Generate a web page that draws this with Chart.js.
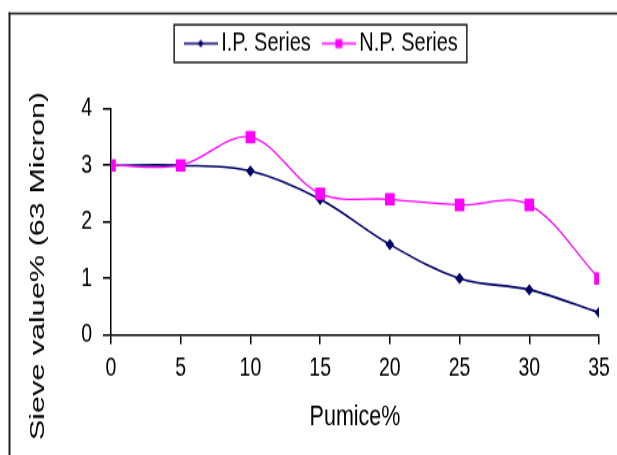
<!DOCTYPE html>
<html>
<head>
<meta charset="utf-8">
<script src="https://cdn.jsdelivr.net/npm/chart.js@4.4.0/dist/chart.umd.min.js"></script>
<style>
  html, body { margin: 0; padding: 0; background: #fff; }
  #wrap { width: 617px; height: 455px; overflow: hidden; }
  /* the chart is drawn short and stretched tall, giving the narrow lettering */
  #sieveChart { display: block; transform: scaleY(1.3); transform-origin: 0 0; }
</style>
</head>
<body>
<div id="wrap"><canvas id="sieveChart" width="617" height="350"></canvas></div>
<script>
const pumice = [0, 5, 10, 15, 20, 25, 30, 35];
const ipSeries = [3.0, 3.0, 2.9, 2.4, 1.6, 1.0, 0.8, 0.4];
const npSeries = [3.0, 3.0, 3.5, 2.5, 2.4, 2.3, 2.3, 1.0];
const xTicks = [0, 5, 10, 15, 20, 25, 30, 35];
const yTicks = [0, 1, 2, 3, 4];

const FONT = "'Liberation Sans', Arial, sans-serif";
const NAVY = "#000066";
const MAGENTA = "#ff00ff";

// small line + marker glyph used as the legend symbol
function legendSymbol(color, shape) {
  const c = document.createElement("canvas");
  c.width = 34;
  c.height = 12;
  const g = c.getContext("2d");
  g.strokeStyle = color;
  g.fillStyle = color;
  g.lineWidth = 1.4;
  g.beginPath();
  g.moveTo(0, 6);
  g.lineTo(34, 6);
  g.stroke();
  g.beginPath();
  if (shape === "diamond") {
    g.moveTo(17, 3);
    g.lineTo(20, 6);
    g.lineTo(17, 9);
    g.lineTo(14, 6);
  } else {
    g.rect(13.5, 2.5, 7, 7);
  }
  g.fill();
  return c;
}
const symbols = [legendSymbol(NAVY, "diamond"), legendSymbol(MAGENTA, "square")];

// extra room under the legend before the plot starts
const legendSpacer = {
  id: "legendSpacer",
  beforeLayout(chart) {
    const lg = chart.legend;
    if (!lg || lg._spaced) return;
    const fit = lg.fit;
    lg.fit = function () {
      fit.call(this);
      this.height += 30.2;
    };
    lg._spaced = true;
  },
};

const frame = {
  id: "frame",
  beforeDraw(chart) {
    const ctx = chart.ctx;
    ctx.save();
    ctx.fillStyle = "#fff";
    ctx.fillRect(0, 0, chart.width, chart.height);
    ctx.fillStyle = "#222";
    ctx.fillRect(8.5, 9.6, chart.width, 1.6);
    ctx.fillRect(8.5, 9.6, 2, chart.height);
    ctx.restore();
  },
  afterDraw(chart) {
    const ctx = chart.ctx;
    const boxes = chart.legend.legendHitBoxes;
    if (boxes && boxes.length) {
      const left = Math.min(...boxes.map((b) => b.left)) - 16;
      const right = Math.max(...boxes.map((b) => b.left + b.width)) + 9;
      const top = Math.min(...boxes.map((b) => b.top)) - 4.5;
      const bottom = Math.max(...boxes.map((b) => b.top + b.height)) + 4.5;
      ctx.save();
      ctx.strokeStyle = "#111";
      ctx.lineWidth = 1.4;
      ctx.strokeRect(left, top, right - left, bottom - top);
      ctx.restore();
    }
    // y axis title, widened along its length
    ctx.save();
    ctx.translate(38, 204.6);
    ctx.rotate(-Math.PI / 2);
    ctx.scale(1.12, 1);
    ctx.font = "21px " + FONT;
    ctx.textAlign = "center";
    ctx.textBaseline = "middle";
    ctx.fillStyle = "#000";
    ctx.fillText("Sieve value% (63 Micron)", 0, 0);
    ctx.restore();
  },
};

new Chart(document.getElementById("sieveChart"), {
  type: "line",
  data: {
    datasets: [
      {
        label: "I.P. Series",
        data: ipSeries.map((v, i) => ({ x: pumice[i], y: v })),
        borderColor: NAVY,
        backgroundColor: NAVY,
        borderWidth: 1.6,
        pointStyle: "rectRot",
        pointRadius: 4.4,
        pointBorderWidth: 0,
        tension: 0.35,
        order: 1,
      },
      {
        label: "N.P. Series",
        data: npSeries.map((v, i) => ({ x: pumice[i], y: v })),
        borderColor: MAGENTA,
        backgroundColor: MAGENTA,
        borderWidth: 1.3,
        pointStyle: "rect",
        pointRadius: 6.8,
        pointBorderWidth: 0,
        tension: 0.35,
        order: 0,
      },
    ],
  },
  options: {
    responsive: false,
    animation: false,
    layout: { padding: { top: 6, left: 49, right: 18, bottom: 0 } },
    plugins: {
      legend: {
        position: "top",
        labels: {
          usePointStyle: true,
          pointStyleWidth: 21,
          padding: 17.5,
          color: "#000",
          font: { family: FONT, size: 20 },
          generateLabels(chart) {
            const items = Chart.defaults.plugins.legend.labels.generateLabels(chart);
            items.sort((a, b) => a.datasetIndex - b.datasetIndex);
            items.forEach((it) => {
              it.pointStyle = symbols[it.datasetIndex];
            });
            return items;
          },
        },
      },
      tooltip: { enabled: false },
    },
    scales: {
      x: {
        type: "linear",
        min: 0,
        max: 35,
        afterBuildTicks: (s) => {
          s.ticks = xTicks.map((v) => ({ value: v }));
        },
        afterFit: (s) => {
          s.height = 92.3;
        },
        grid: { drawOnChartArea: false, tickLength: 7, color: "#000", lineWidth: 1.5 },
        border: { color: "#000", width: 1.5 },
        ticks: { color: "#000", font: { family: FONT, size: 19.5 }, padding: 7, maxRotation: 0 },
        title: {
          display: true,
          text: "Pumice%",
          color: "#000",
          font: { family: FONT, size: 21.5 },
          padding: { top: 0, bottom: 16.3 },
        },
      },
      y: {
        min: 0,
        max: 4,
        afterBuildTicks: (s) => {
          s.ticks = yTicks.map((v) => ({ value: v }));
        },
        afterFit: (s) => {
          s.width = 62;
        },
        grid: { drawOnChartArea: false, tickLength: 8, color: "#000", lineWidth: 1.5 },
        border: { color: "#000", width: 1.5 },
        ticks: { color: "#000", font: { family: FONT, size: 19.5 }, padding: 11 },
      },
    },
  },
  plugins: [legendSpacer, frame],
});
</script>
</body>
</html>
